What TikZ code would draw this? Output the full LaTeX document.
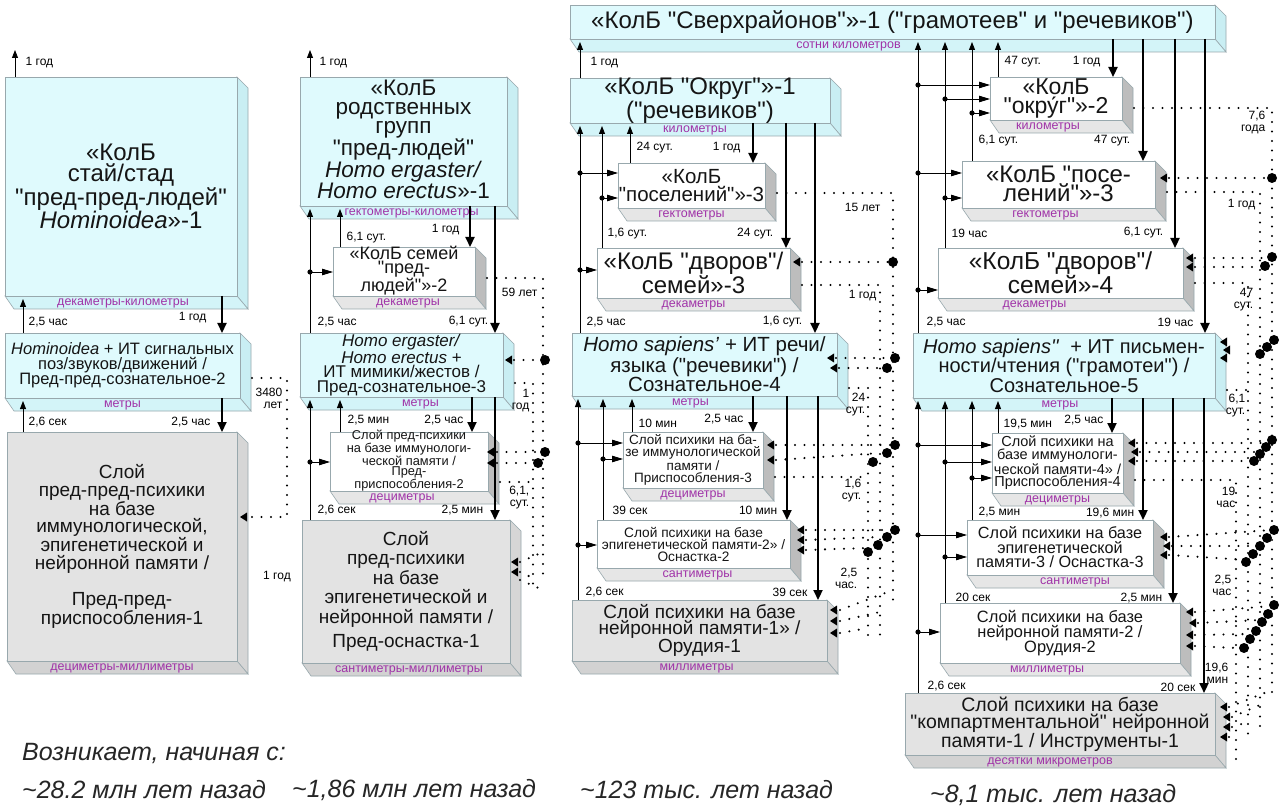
\documentclass[tikz,border=0pt]{standalone}
\usepackage{fontspec}
\setmainfont{Liberation Sans}[Ligatures=TeXOff]
\usetikzlibrary{arrows.meta}
\definecolor{cyf}{HTML}{DFFAFD}
\definecolor{cys}{HTML}{C9EEF3}
\definecolor{cyb}{HTML}{D3F4F8}
\definecolor{whf}{HTML}{FFFFFF}
\definecolor{whs}{HTML}{BDBDBD}
\definecolor{whb}{HTML}{E6E6E6}
\definecolor{grf}{HTML}{E3E3E3}
\definecolor{grs}{HTML}{D6D6D6}
\definecolor{grb}{HTML}{D2D2D2}
\definecolor{edg}{HTML}{98A8AD}
\definecolor{labc}{HTML}{A033A8}
\definecolor{txt}{HTML}{151515}
\newcommand\fsz[2]{\fontsize{#1}{#2}\selectfont}
% #1 name, #2 x1, #3 y1, #4 x2, #5 y2, #6 kind, #7 label, #8 label shift
\newcommand\threed[8]{%
  \fill[#6s,draw=edg,line width=0.6pt] (#4,#3) -- (#4+11,#3+11) -- (#4+11,#5+13) -- (#4,#5) -- cycle;
  \fill[#6b,draw=edg,line width=0.6pt] (#2,#5) -- (#4,#5) -- (#4+11,#5+13) -- (#2+9,#5+13) -- cycle;
  \pgfmathsetmacro\bw{#4-#2}%
  \pgfmathsetmacro\bh{#5-#3}%
  \node[draw=edg,fill=#6f,line width=0.6pt,minimum width=\bw pt,minimum height=\bh pt,inner sep=0pt,outer sep=0pt,anchor=north west] (#1) at (#2,#3) {};
  \node[text=labc,font=\fsz{12.5}{13},inner sep=0pt] (#1-l) at ([xshift=#8pt,yshift=-7pt]#1.south) {#7};
  \coordinate (#1-s) at (#2,#5+3);
  \coordinate (#1-r) at (#4+12,#3);
}
\newcommand\tipL[2]{\fill (#1,#2) -- ++(7,-4.5) -- ++(0,9) -- cycle;}
\newcommand\bdot[2]{\fill (#1,#2) circle (5pt);}
\newcommand\jdot[2]{\fill (#1,#2) circle (2.6pt);}
\begin{document}
\begin{tikzpicture}[x=1pt,y=-1pt,
  bx/.style={align=center,inner sep=0pt,text=txt},
  dn/.style={line width=2.2pt,-{Triangle[length=10pt,width=9pt]}},
  up/.style={line width=0.9pt,-{Triangle[length=8pt,width=6pt]}},
  jn/.style={line width=0.9pt,-{Triangle[length=11pt,width=6.5pt]}},
  tl/.style={font=\fsz{12}{13},inner sep=0.5pt},
  dl/.style={font=\fsz{12}{12},inner sep=0.5pt,align=right},
  dots/.style={line width=2.3pt,line cap=round,dash pattern=on 0pt off 9.5pt},
  bt/.style={font=\fsz{25}{27}\itshape,inner sep=0pt,anchor=west,text=black!85}]
\fill[white] (0,0) rectangle (1280,810);
\useasboundingbox (0,0) rectangle (1280,810);

% ---------- boxes ----------
\threed{BN}{570}{5}{1215}{39}{cy}{сотни километров}{-44}
\node[bx,font=\fsz{24}{22}] (BN-t) at (BN.center) {«КолБ "Сверхрайонов"»-1 ("грамотеев" и "речевиков")};

\threed{B1a}{5}{77}{237}{296}{cy}{декаметры-километры}{2}
\node[bx,font=\fsz{24}{21}] (B1a-t) at (B1a.center) {«КолБ\\стай/стад\\"пред-пред-людей"\\\textit{Hominoidea}»-1};
\threed{B1b}{5}{333}{240}{398}{cy}{метры}{0}
\node[bx,font=\fsz{16.5}{15}] (B1b-t) at (B1b.center) {\textit{Hominoidea} + ИТ сигнальных\\поз/звуков/движений /\\Пред-пред-сознательное-2};
\threed{B1c}{7}{432}{237}{661}{gr}{дециметры-миллиметры}{0}
\node[bx,font=\fsz{19}{17.5}] (B1c-t) at (B1c.center) {Слой\\пред-пред-психики\\на базе\\иммунологической,\\эпигенетической и\\нейронной памяти /\\[19pt]Пред-пред-\\приспособления-1};

\threed{B2a}{300}{77}{507}{206}{cy}{гектометры-километры}{8}
\node[bx,font=\fsz{22.5}{18.7}] (B2a-t) at ([yshift=2pt]B2a.center) {«КолБ\\родственных\\групп\\"пред-людей"\\\textit{Homo ergaster/}\\\textit{Homo erectus}»-1};
\threed{B2b}{333}{247}{475}{296}{wh}{декаметры}{4}
\node[bx,font=\fsz{18}{14.5}] (B2b-t) at ([yshift=1pt]B2b.center) {«КолБ семей\\"пред-\\людей"»-2};
\threed{B2c}{300}{333}{503}{397}{cy}{метры}{19}
\node[bx,font=\fsz{17}{14.5}] (B2c-t) at (B2c.center) {\textit{Homo ergaster/}\\\textit{Homo erectus} +\\ИТ мимики/жестов /\\Пред-сознательное-3};
\threed{B2d}{330}{432}{488}{491}{wh}{дециметры}{-7}
\node[bx,font=\fsz{12.8}{10.6}] (B2d-t) at ([yshift=1pt]B2d.center) {Слой пред-психики\\на базе иммунологи-\\ческой памяти /\\Пред-\\приспособления-2};
\threed{B2e}{302}{520}{510}{663}{gr}{сантиметры-миллиметры}{3}
\node[bx,font=\fsz{19}{19.5}] (B2e-t) at (B2e.center) {Слой\\пред-психики\\на базе\\эпигенетической и\\нейронной памяти /\\[5pt]Пред-оснастка-1};

\threed{B3a}{570}{78}{830}{123}{cy}{километры}{-5}
\node[bx,font=\fsz{24}{19}] (B3a-t) at (B3a.center) {«КолБ "Округ"»-1\\("речевиков")};
\threed{B3b}{618}{163}{765}{208}{wh}{гектометры}{0}
\node[bx,font=\fsz{20.5}{18}] (B3b-t) at (B3b.center) {«КолБ\\"поселений"»-3};
\threed{B3c}{597}{248}{790}{298}{wh}{декаметры}{0}
\node[bx,font=\fsz{24}{20}] (B3c-t) at (B3c.center) {«КолБ "дворов"/\\семей»-3};
\threed{B3d}{572}{333}{837}{396}{cy}{метры}{-14}
\node[bx,font=\fsz{20.5}{17.5}] (B3d-t) at (B3d.center) {\textit{Homo sapiens’} + ИТ речи/\\языка ("речевики") /\\Сознательное-4};
\threed{B3e}{623}{432}{763}{488}{wh}{дециметры}{0}
\node[bx,font=\fsz{13.5}{12}] (B3e-t) at (B3e.center) {Слой психики на ба-\\зе иммунологической\\памяти /\\Приспособления-3};
\threed{B3f}{597}{520}{790}{568}{wh}{сантиметры}{4}
\node[bx,font=\fsz{13.7}{12}] (B3f-t) at (B3f.center) {Слой психики на базе\\эпигенетической памяти-2» /\\Оснастка-2};
\threed{B3g}{572}{600}{827}{661}{gr}{миллиметры}{-3}
\node[bx,font=\fsz{19}{16}] (B3g-t) at (B3g.center) {Слой психики на базе\\нейронной памяти-1» /\\Орудия-1};

\threed{B4a}{990}{77}{1122}{120}{wh}{километры}{-8}
\node[bx,font=\fsz{23}{18.5}] (B4a-t) at (B4a.center) {«КолБ\\"окру́г"»-2};
\threed{B4b}{962}{161}{1155}{208}{wh}{гектометры}{-13}
\node[bx,font=\fsz{24}{19}] (B4b-t) at ([yshift=1pt]B4b.center) {«КолБ "посе-\\лений"»-3};
\threed{B4c}{938}{248}{1183}{298}{wh}{декаметры}{-26}
\node[bx,font=\fsz{24.5}{20}] (B4c-t) at (B4c.center) {«КолБ "дворов"/\\семей»-4};
\threed{B4d}{913}{333}{1215}{398}{cy}{метры}{-4}
\node[bx,font=\fsz{20}{17}] (B4d-t) at (B4d.center) {\textit{Homo sapiens''}\ \ + ИТ письмен-\\ности/чтения ("грамотеи") /\\Сознательное-5};
\threed{B4e}{992}{433}{1123}{493}{wh}{дециметры}{0}
\node[bx,font=\fsz{14.5}{12.5}] (B4e-t) at (B4e.center) {Слой психики на\\базе иммунологи-\\ческой памяти-4» /\\Приспособления-4};
\threed{B4f}{967}{520}{1153}{575}{wh}{сантиметры}{15}
\node[bx,font=\fsz{16.2}{14.5}] (B4f-t) at (B4f.center) {Слой психики на базе\\эпигенетической\\памяти-3 / Оснастка-3};
\threed{B4g}{940}{603}{1180}{663}{wh}{миллиметры}{-13}
\node[bx,font=\fsz{16.4}{15}] (B4g-t) at (B4g.center) {Слой психики на базе\\нейронной памяти-2 /\\Орудия-2};
\threed{B4h}{905}{693}{1215}{755}{gr}{десятки микрометров}{-10}
\node[bx,font=\fsz{19.5}{17}] (B4h-t) at (B4h.center) {Слой психики на базе\\"компартментальной" нейронной\\памяти-1 / Инструменты-1};

% ---------- column 1 connectors ----------
\draw[up] (B1a.north -| 15,0) -- (15,50);
\node[tl,anchor=west] (a1) at (25,63) {1 год};
\draw[up] (B1b.north -| 23,0) -- (B1a-s -| 23,0);
\node[tl,anchor=west] (a2) at (28,322) {2,5 час};
\draw[dn] (B1a.south -| 222,0) -- (B1b.north -| 222,0);
\node[tl,anchor=east] (a3) at (207,318) {1 год};
\draw[up] (B1c.north -| 23,0) -- (B1b-s -| 23,0);
\node[tl,anchor=west] (a4) at (28,422) {2,6 сек};
\draw[dn] (B1b.south -| 222,0) -- (B1c.north -| 222,0);
\node[tl,anchor=east] (a5) at (211,422) {2,5 час};

% ---------- column 2 connectors ----------
\draw[up] (B2a.north -| 310,0) -- (310,50);
\node[tl,anchor=west] (b1) at (319,63) {1 год};
\draw[up] (B2c.north -| 310,0) -- (B2a-s -| 310,0);
\jdot{310}{272}\draw[jn] (310,272) -- (B2b.west |- 0,272);
\draw[up] (B2b.north -| 340,0) -- (B2a-s -| 340,0);
\node[tl,anchor=west] (b2) at (346,238) {6,1 сут.};
\draw[dn] (B2a.south -| 470,0) -- (B2b.north -| 470,0);
\node[tl,anchor=east] (b3) at (460,230) {1 год};
\draw[dn] (B2a.south -| 495,0) -- (B2c.north -| 495,0);
\node[tl,anchor=east] (b4) at (489,322) {6,1 сут.};
\node[tl,anchor=west] (b5) at (317,322) {2,5 час};
\draw[up] (B2e.north -| 310,0) -- (B2c-s -| 310,0);
\jdot{310}{462}\draw[jn] (310,462) -- (B2d.west |- 0,462);
\node[tl,anchor=west] (b6) at (317,510) {2,6 сек};
\draw[up] (B2d.north -| 340,0) -- (B2c-s -| 340,0);
\node[tl,anchor=west] (b7) at (347,420) {2,5 мин};
\draw[dn] (B2c.south -| 472,0) -- (B2d.north -| 472,0);
\node[tl,anchor=east] (b8) at (464,420) {2,5 час};
\draw[dn] (B2c.south -| 495,0) -- (B2e.north -| 495,0);
\node[tl,anchor=east] (b9) at (484,510) {2,5 мин};

% ---------- column 3 connectors ----------
\draw[up] (B3a.north -| 580,0) -- (BN-s -| 580,0);
\node[tl,anchor=west] (c1) at (590,63) {1 год};
\draw[up] (B3d.north -| 580,0) -- (B3a-s -| 580,0);
\jdot{580}{173}\draw[jn] (580,173) -- (B3b.west |- 0,173);
\jdot{580}{270}\draw[jn] (580,270) -- (B3c.west |- 0,270);
\node[tl,anchor=west] (c2) at (586,322) {2,5 час};
\draw[up] (B3c.north -| 602,0) -- (B3a-s -| 602,0);
\jdot{602}{198}\draw[jn] (602,198) -- (B3b.west |- 0,198);
\node[tl,anchor=west] (c3) at (607,234) {1,6 сут.};
\draw[up] (B3b.north -| 630,0) -- (B3a-s -| 630,0);
\node[tl,anchor=west] (c4) at (636,148) {24 сут.};
\draw[dn] (B3a.south -| 753,0) -- (B3b.north -| 753,0);
\node[tl,anchor=east] (c5) at (741,148) {1 год};
\draw[dn] (B3a.south -| 786,0) -- (B3c.north -| 786,0);
\node[tl,anchor=east] (c6) at (774,234) {24 сут.};
\draw[dn] (B3a.south -| 815,0) -- (B3d.north -| 815,0);
\node[tl,anchor=east] (c7) at (803,322) {1,6 сут.};
\draw[up] (B3g.north -| 578,0) -- (B3d-s -| 578,0);
\jdot{578}{443}\draw[jn] (578,443) -- (B3e.west |- 0,443);
\jdot{578}{545}\draw[jn] (578,545) -- (B3f.west |- 0,545);
\node[tl,anchor=west] (c8) at (585,592) {2,6 сек};
\draw[up] (B3f.north -| 603,0) -- (B3d-s -| 603,0);
\jdot{603}{459}\draw[jn] (603,459) -- (B3e.west |- 0,459);
\node[tl,anchor=west] (c9) at (612,510) {39 сек};
\draw[up] (B3e.north -| 632,0) -- (B3d-s -| 632,0);
\node[tl,anchor=west] (c10) at (638,423) {10 мин};
\draw[dn] (B3d.south -| 753,0) -- (B3e.north -| 753,0);
\node[tl,anchor=east] (c11) at (744,419) {2,5 час};
\draw[dn] (B3d.south -| 787,0) -- (B3f.north -| 787,0);
\node[tl,anchor=east] (c12) at (778,510) {10 мин};
\draw[dn] (B3d.south -| 818,0) -- (B3g.north -| 818,0);
\node[tl,anchor=east] (c13) at (808,592) {39 сек};

% ---------- column 4 connectors ----------
\draw[up] (B4d.north -| 918,0) -- (BN-s -| 918,0);
\jdot{918}{85}\draw[jn] (918,85) -- (B4a.west |- 0,85);
\jdot{918}{173}\draw[jn] (918,173) -- (B4b.west |- 0,173);
\jdot{918}{290}\draw[jn] (918,290) -- (B4c.west |- 0,290);
\node[tl,anchor=west] (d1) at (926,322) {2,5 час};
\draw[up] (B4c.north -| 945,0) -- (BN-s -| 945,0);
\jdot{945}{99}\draw[jn] (945,99) -- (B4a.west |- 0,99);
\jdot{945}{198}\draw[jn] (945,198) -- (B4b.west |- 0,198);
\node[tl,anchor=west] (d2) at (951,233) {19 час};
\draw[up] (B4b.north -| 972,0) -- (BN-s -| 972,0);
\jdot{972}{113}\draw[jn] (972,113) -- (B4a.west |- 0,113);
\node[tl,anchor=west] (d3) at (978,141) {6,1 сут.};
\draw[up] (B4a.north -| 998,0) -- (BN-s -| 998,0);
\node[tl,anchor=west] (d4) at (1004,62) {47 сут.};
\draw[dn] (BN.south -| 1113,0) -- (B4a.north -| 1113,0);
\node[tl,anchor=east] (d5) at (1101,62) {1 год};
\draw[dn] (BN.south -| 1143,0) -- (B4b.north -| 1143,0);
\node[tl,anchor=east] (d6) at (1131,141) {47 сут.};
\draw[dn] (BN.south -| 1175,0) -- (B4c.north -| 1175,0);
\node[tl,anchor=east] (d7) at (1164,233) {6,1 сут.};
\draw[dn] (BN.south -| 1205,0) -- (B4d.north -| 1205,0);
\node[tl,anchor=east] (d8) at (1194,322) {19 час};
\draw[up] (B4h.north -| 918,0) -- (B4d-s -| 918,0);
\jdot{918}{445}\draw[jn] (918,445) -- (B4e.west |- 0,445);
\jdot{918}{535}\draw[jn] (918,535) -- (B4f.west |- 0,535);
\jdot{918}{632}\draw[jn] (918,632) -- (B4g.west |- 0,632);
\node[tl,anchor=west] (d9) at (927,686) {2,6 сек};
\draw[up] (B4g.north -| 945,0) -- (B4d-s -| 945,0);
\jdot{945}{462}\draw[jn] (945,462) -- (B4e.west |- 0,462);
\jdot{945}{557}\draw[jn] (945,557) -- (B4f.west |- 0,557);
\node[tl,anchor=west] (d10) at (955,597) {20 сек};
\draw[up] (B4f.north -| 972,0) -- (B4d-s -| 972,0);
\jdot{972}{478}\draw[jn] (972,478) -- (B4e.west |- 0,478);
\node[tl,anchor=west] (d11) at (978,512) {2,5 мин};
\draw[up] (B4e.north -| 998,0) -- (B4d-s -| 998,0);
\node[tl,anchor=west] (d12) at (1003,424) {19,5 мин};
\draw[dn] (B4d.south -| 1112,0) -- (B4e.north -| 1112,0);
\node[tl,anchor=east] (d13) at (1104,420) {2,5 час};
\draw[dn] (B4d.south -| 1143,0) -- (B4f.north -| 1143,0);
\node[tl,anchor=east] (d14) at (1135,513) {19,6 мин};
\draw[dn] (B4d.south -| 1173,0) -- (B4g.north -| 1173,0);
\node[tl,anchor=east] (d15) at (1163,598) {2,5 мин};
\draw[dn] (B4d.south -| 1204,0) -- (B4h.north -| 1204,0);
\node[tl,anchor=east] (d16) at (1196,687) {20 сек};

% ---------- dotted feedback network, column 1 ----------
\draw[dots] (B1b-r |- 0,378) -- (287,378) -- (287,517) -- (B1c-r |- 0,517);
\tipL{240}{517}
\node[dl,anchor=east] (e1) at (283,398) {3480\\лет};
\node[tl] (e2) at (277,577) {1 год};

% ---------- dotted network, column 2 ----------
\draw[dots] (B2b-r |- 0,278) -- (543,278) -- (543,580);
\node[dl,anchor=east] (f1) at (538,292) {59 лет};
\tipL{505}{360}\draw[dots] (514,360) -- (543,360);\bdot{545}{360}
\draw[dots] (B2c-r |- 0,383) -- (533,383) -- (533,590);
\node[dl,anchor=east] (f2) at (530,401) {1\\год};
\tipL{487}{452}\tipL{487}{463}
\draw[dots] (497,452) -- (543,452);\bdot{545}{452}
\draw[dots] (497,463) -- (533,463);\bdot{538}{463}
\draw[dots] (B2d-r |- 0,482) -- (533,482);
\node[dl,anchor=east] (f3) at (530,498) {6,1,\\сут.};
\tipL{511}{562}\tipL{511}{572}
\draw[dots] (520,562) -- (543,552);
\draw[dots] (520,572) -- (533,578);
\draw[dots] (520,580) -- (543,590);

% ---------- dotted network, column 3 ----------
\draw[dots] (B3b-r |- 0,193) -- (893,193) -- (893,600);
\node[dl,anchor=east] (g1) at (881,207) {15 лет};
\tipL{793}{262}\draw[dots] (802,262) -- (893,262);\bdot{893}{262}
\draw[dots] (B3c-r |- 0,285) -- (880,285) -- (880,640);
\node[dl,anchor=east] (g2) at (877,296) {1 год};
\tipL{827}{358}\tipL{830}{368}
\draw[dots] (836,358) -- (893,358);\bdot{895}{358}
\draw[dots] (839,368) -- (880,368);\bdot{887}{368}
\draw[dots] (B3d-r |- 0,388) -- (868,388) -- (868,640);
\node[dl,anchor=east] (g3) at (866,405) {24\\сут.};
\tipL{767}{445}\tipL{767}{460}
\draw[dots] (776,445) -- (893,445);\bdot{895}{445}
\draw[dots] (776,460) -- (880,453);\bdot{887}{453}
\bdot{873}{462}
\draw[dots] (B3e-r |- 0,477) -- (868,477);
\node[dl,anchor=east] (g4) at (862,491) {1,6\\сут.};
\tipL{797}{530}\tipL{797}{540}\tipL{797}{550}
\draw[dots] (806,530) -- (893,530);\bdot{895}{530}
\draw[dots] (806,540) -- (880,537);\bdot{887}{537}
\draw[dots] (806,550) -- (868,548);\bdot{878}{545}\bdot{868}{552}
\node[dl,anchor=east] (g5) at (858,578) {2,5\\час.};
\tipL{830}{610}\tipL{830}{621}\tipL{830}{633}
\draw[dots] (840,610) -- (893,590);
\draw[dots] (840,621) -- (880,612);
\draw[dots] (840,633) -- (868,628);

% ---------- dotted network, column 4 ----------
\draw[dots] (B4a-r |- 0,108) -- (1272,108) -- (1272,700);
\node[dl,anchor=east] (h1) at (1266,123) {7,6\\года};
\tipL{1160}{178}\draw[dots] (1169,178) -- (1272,178);\bdot{1272}{178}
\draw[dots] (B4b-r |- 0,192) -- (1260,192) -- (1260,730);
\node[dl,anchor=east] (h2) at (1256,205) {1 год};
\tipL{1186}{258}\tipL{1186}{267}
\draw[dots] (1195,258) -- (1272,258);\bdot{1272}{257}
\draw[dots] (1195,267) -- (1260,267);\bdot{1265}{266}
\draw[dots] (B4c-r |- 0,283) -- (1248,283) -- (1248,740);
\node[dl,anchor=east] (h3) at (1254,300) {47\\сут.};
\tipL{1220}{342}\tipL{1223}{350}\tipL{1220}{358}
\bdot{1274}{340}\bdot{1267}{347}\bdot{1260}{354}
\draw[dots] (B4d-r |- 0,390) -- (1248,390);
\node[dl,anchor=east] (h4) at (1246,406) {6,1\\сут.};
\tipL{1128}{443}\tipL{1131}{452}\tipL{1128}{461}
\draw[dots] (1137,443) -- (1272,443);
\draw[dots] (1140,452) -- (1260,452);
\draw[dots] (1137,461) -- (1248,461);
\bdot{1272}{440}\bdot{1266}{447}\bdot{1260}{454}\bdot{1254}{461}
\draw[dots] (B4e-r |- 0,480) -- (1236,480) -- (1236,760);
\node[dl,anchor=east] (h5) at (1236,497) {19\\час};
\tipL{1160}{537}\tipL{1163}{546}\tipL{1160}{555}
\draw[dots] (1169,537) -- (1272,530);
\draw[dots] (1172,546) -- (1260,546);
\draw[dots] (1169,555) -- (1248,560);
\bdot{1274}{530}\bdot{1267}{538}\bdot{1260}{546}\bdot{1253}{554}\bdot{1246}{562}
\node[dl,anchor=east] (h6) at (1232,585) {2,5\\час};
\tipL{1186}{612}\tipL{1189}{623}\tipL{1186}{635}\tipL{1186}{646}
\draw[dots] (1195,612) -- (1272,606);
\draw[dots] (1198,623) -- (1260,620);
\draw[dots] (1195,635) -- (1248,634);
\draw[dots] (1195,646) -- (1236,648);
\bdot{1274}{605}\bdot{1268}{614}\bdot{1262}{622}\bdot{1256}{631}\bdot{1250}{639}\bdot{1244}{648}
\node[dl,anchor=east] (h7) at (1229,673) {19,6\\мин};
\tipL{1220}{707}\tipL{1223}{717}\tipL{1223}{727}\tipL{1220}{737}
\draw[dots] (1229,707) -- (1272,690);
\draw[dots] (1232,717) -- (1260,705);
\draw[dots] (1232,727) -- (1248,722);
\draw[dots] (1229,737) -- (1236,740);

% ---------- bottom texts ----------
\node[bt] (t0) at (22,753) {Возникает, начиная с:};
\node[bt] (t1) at (22,790) {\textasciitilde 28.2 млн лет назад};
\node[bt] (t2) at (292,790) {\textasciitilde 1,86 млн лет назад};
\node[bt] (t3) at (580,790) {\textasciitilde 123 тыс. лет назад};
\node[bt] (t4) at (930,795) {\textasciitilde 8,1 тыс. лет назад};
\end{tikzpicture}
\end{document}
